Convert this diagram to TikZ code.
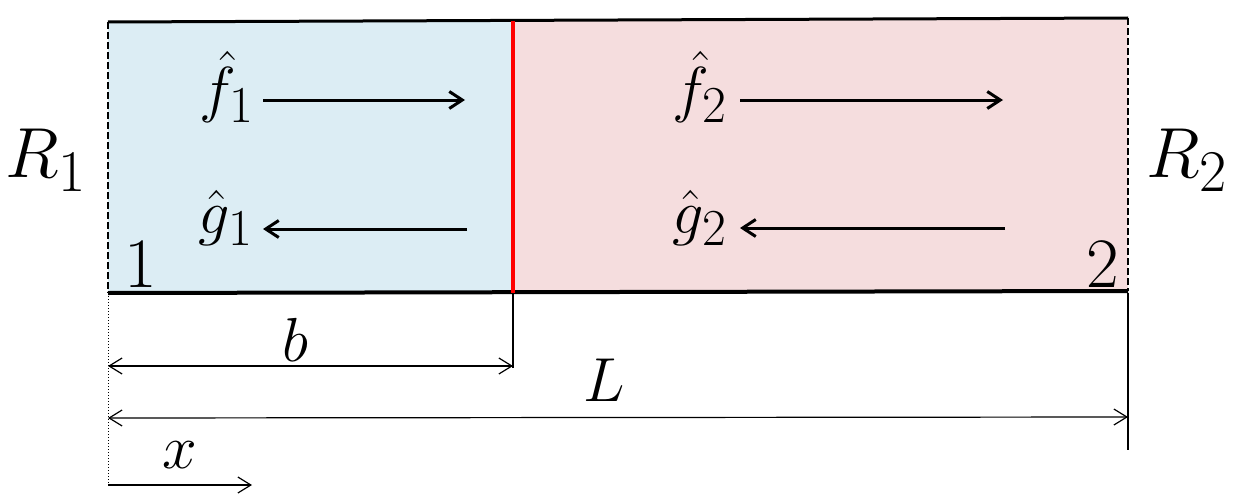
\documentclass[tikz,border=0pt]{standalone}
\usetikzlibrary{arrows.meta}
\definecolor{lblue}{RGB}{220,237,244}
\definecolor{lpink}{RGB}{245,221,222}
\begin{document}
\begin{tikzpicture}[x=1pt,y=-1pt,
  lab/.style={inner sep=0pt,font=\Huge,scale=2.5,transform shape},
  biglab/.style={inner sep=0pt,font=\Huge,scale=2.85,transform shape},
  dimarrow/.style={line width=1.2pt,{Straight Barb[length=13pt,width=16pt]}-{Straight Barb[length=13pt,width=16pt]}},
  flow/.style={line width=3pt,-{Straight Barb[length=13pt,width=17pt,line width=3pt]}},
  edge/.style={line width=2.5pt,dash pattern=on 7pt off 3pt}]
\useasboundingbox (0,0) rectangle (1236,503);
% regions
\fill[lblue] (108,21) rectangle (513,293);
\fill[lpink] (513,20) rectangle (1128,293);
\draw[line width=3pt] (108,22) -- (1128,18);
\draw[line width=4pt] (108,293) -- (1128,291);
\draw[edge] (108,22) -- (108,293);
\draw[edge] (1128,18) -- (1128,291);
\draw[red,line width=3.5pt] (513,21) -- (513,293);
% labels
\node[biglab] (R1) at (46,160) {$R_1$};
\node[biglab] (R2) at (1187,160) {$R_2$};
\node[biglab] (n1) at (141,265) {$1$};
\node[biglab] (n2) at (1103,265) {$2$};
\node[lab] (f1) at (227,87) {$\hat f_1$};
\node[lab] (g1) at (226,218) {$\hat g_1$};
\node[lab] (f2) at (700,87) {$\hat f_2$};
\node[lab] (g2) at (700,218) {$\hat g_2$};
\coordinate (f1e) at (465,100);
\coordinate (g1s) at (467,229);
\coordinate (f2e) at (1003,100);
\coordinate (g2s) at (1005,228);
\draw[flow] (263,100) -- (f1e);
\draw[flow] (g1s) -- (263,229);
\draw[flow] (740,100) -- (f2e);
\draw[flow] (g2s) -- (740,228);
% dimension lines
\coordinate (o) at (108,293);
\coordinate (ob) at (108,487);
\coordinate (bt) at (513,293);
\coordinate (bb) at (513,368);
\coordinate (lt) at (1128,293);
\coordinate (lb) at (1128,450);
\draw[line width=1pt,dotted] (o) -- (ob);
\draw[line width=1.2pt] (bt) -- (bb);
\draw[line width=1.5pt] (lt) -- (lb);
\coordinate (b1) at (108,366);
\coordinate (b2) at (513,366);
\coordinate (L1) at (108,418);
\coordinate (L2) at (1128,417);
\coordinate (x1) at (108,485);
\coordinate (x2) at (252,485);
\draw[dimarrow] (b1) -- (b2);
\draw[dimarrow] (L1) -- (L2);
\draw[line width=1.2pt,-{Straight Barb[length=13pt,width=16pt]}] (x1) -- (x2);
\node[lab] (b) at (295,340) {$b$};
\node[lab] (L) at (604,380) {$L$};
\node[lab] (x) at (180,455) {$x$};
\end{tikzpicture}
\end{document}
